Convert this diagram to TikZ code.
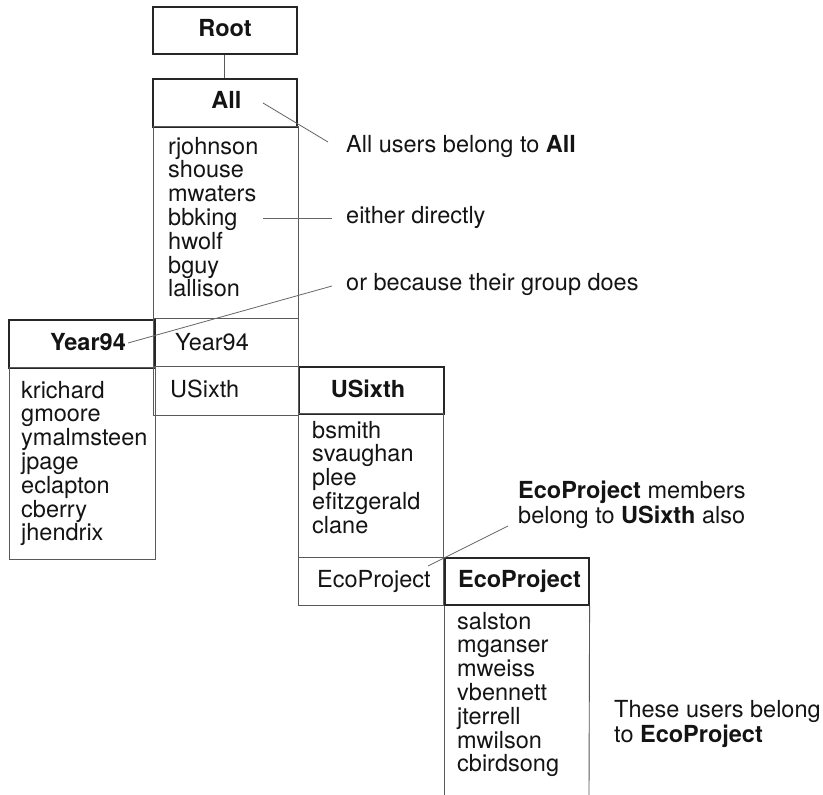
\documentclass[tikz,border=0pt]{standalone}
\usepackage{fontspec}
\setmainfont{TeX Gyre Heros}
\begin{document}
\begin{tikzpicture}[x=1pt,y=-1pt,
  hdr/.style={draw=black!85, line width=1.6pt, inner sep=0, anchor=north west},
  bodybox/.style={draw=black!65, line width=0.9pt, inner sep=0, anchor=north west},
  thinl/.style={draw=black!65, line width=0.9pt},
  lead/.style={draw=black!60, line width=0.8pt},
  txt/.style={anchor=base west, inner sep=0, font=\fontsize{23.5}{24}\selectfont, text=black!92},
  btxt/.style={anchor=base, inner sep=0, font=\fontsize{23.5}{24}\selectfont\bfseries, text=black!92}]
\useasboundingbox[fill=white] (0,0) rectangle (823,795);

% header boxes
\node[hdr, minimum width=144pt, minimum height=47pt] (root) at (152,6) {};
\node[hdr, minimum width=144pt, minimum height=48pt] (allh) at (152,78) {};
\node[hdr, minimum width=146pt, minimum height=48pt] (yearh) at (8,319) {};
\node[hdr, minimum width=145pt, minimum height=47pt] (usixh) at (298,366) {};
\node[hdr, minimum width=144pt, minimum height=47pt] (ecoh) at (444,557) {};

% body boxes
\node[bodybox, minimum width=145pt, minimum height=289pt] (allb) at (153,126) {};
\node[bodybox, minimum width=146pt, minimum height=192pt] (yearb) at (9,367) {};
\node[bodybox, minimum width=145pt, minimum height=192pt] (usixb) at (298,413) {};
\coordinate (ecobl) at (444,795);
\coordinate (ecobr) at (589,795);
\draw[thinl] (ecoh.south west) -- (ecobl);
\draw[thinl] (ecoh.south east) -- (ecobr);

% row separators
\coordinate (r1a) at (153,318); \coordinate (r1b) at (298,318);
\coordinate (r2a) at (153,366); \coordinate (r2b) at (298,366);
\coordinate (r3a) at (298,557); \coordinate (r3b) at (443,557);
\draw[thinl] (r1a) -- (r1b);
\draw[thinl] (r2a) -- (r2b);
\draw[thinl] (r3a) -- (r3b);

% connector root - all
\draw[thinl, line width=1pt] (root.south) -- (allh.north);

% header texts
\node[btxt] (troot) at (225,36) {Root};
\node[btxt] (tall) at (226.5,108) {All};
\node[btxt, anchor=base east] (tyear) at (126,350) {Year94};
\node[btxt] (tusix) at (368,397) {USixth};
\node[btxt] (teco) at (519.5,587) {EcoProject};

% member lists
\foreach \n [count=\i] in {rjohnson,shouse,mwaters,bbking,hwolf,bguy,lallison}
  \node[txt] (a\i) at (168,{154+23.8*(\i-1)}) {\n};
\foreach \n [count=\i] in {krichard,gmoore,ymalmsteen,jpage,eclapton,cberry,jhendrix}
  \node[txt] (y\i) at (21,{398+23.8*(\i-1)}) {\n};
\foreach \n [count=\i] in {bsmith,svaughan,plee,efitzgerald,clane}
  \node[txt] (u\i) at (312,{438+23.8*(\i-1)}) {\n};
\foreach \n [count=\i] in {salston,mganser,mweiss,vbennett,jterrell,mwilson,cbirdsong}
  \node[txt] (e\i) at (457,{629+23.8*(\i-1)}) {\n};

% sub-group rows
\node[txt] (ryear) at (175,350) {Year94};
\node[txt] (rusix) at (170,397) {USixth};
\node[txt] (reco) at (317,587) {EcoProject};

% annotations
\node[txt] (lab1) at (346,152) {All users belong to \textbf{All}};
\node[txt] (lab2) at (346,223) {either directly};
\node[txt] (lab3) at (346,290) {or because their group does};
\node[txt] (lab4a) at (518,498) {\textbf{EcoProject} members};
\node[txt] (lab4b) at (518,523) {belong to \textbf{USixth} also};
\node[txt] (lab5a) at (614,717) {These users belong};
\node[txt] (lab5b) at (614,742) {to \textbf{EcoProject}};

% leader lines
\coordinate (l1s) at (263,103); \coordinate (l1e) at (328,142);
\coordinate (l2s) at (263,218); \coordinate (l2e) at (332,218);
\coordinate (l3s) at (128,343); \coordinate (l3e) at (332,286);
\coordinate (l4s) at (428,566); \coordinate (l4e) at (508,526);
\draw[lead] (l1s) -- (l1e);
\draw[lead] (l2s) -- (l2e);
\draw[lead] (l3s) -- (l3e);
\draw[lead] (l4s) -- (l4e);
\end{tikzpicture}
\end{document}
